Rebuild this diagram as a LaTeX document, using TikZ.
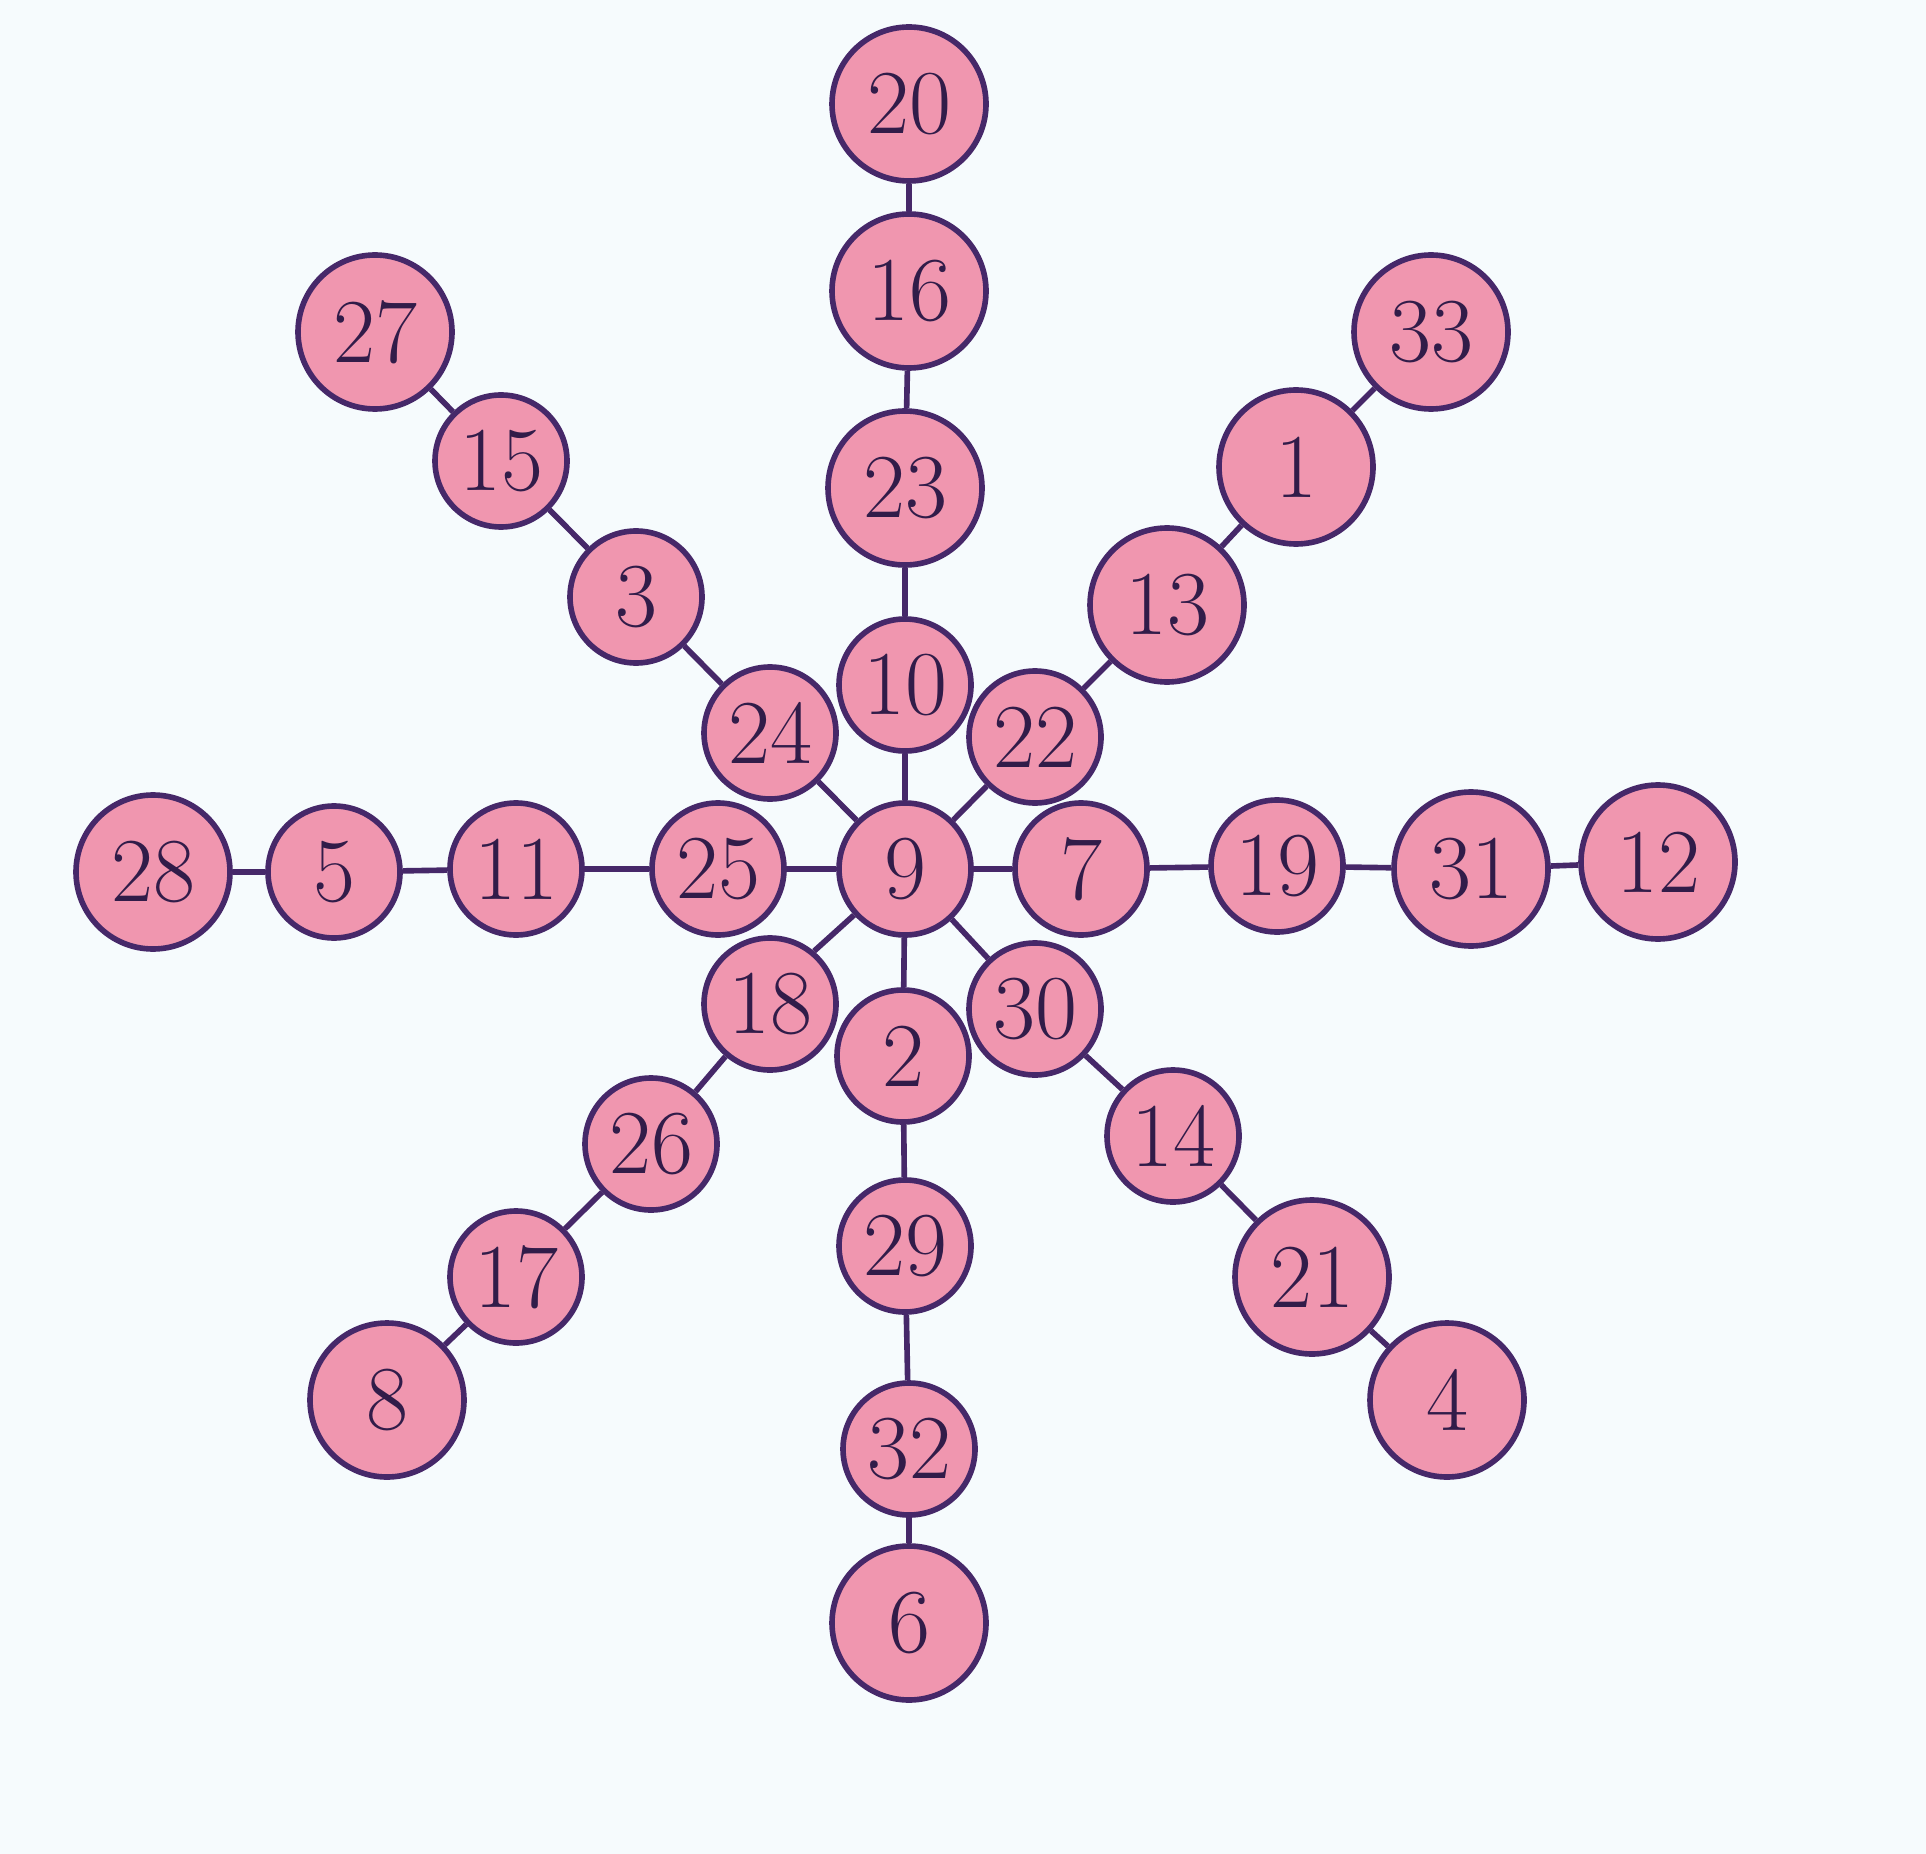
\documentclass[tikz,border=0pt]{standalone}
\usepackage{tikz}
\usetikzlibrary{calc}

\definecolor{ballfill}{RGB}{240,150,175}
\definecolor{balledge}{RGB}{70,40,105}
\definecolor{paper}{RGB}{246,251,253}

\begin{document}
\begin{tikzpicture}[
		ball/.style={circle, draw=balledge, fill=ballfill, line width=1.6pt, minimum size=1.32cm, inner sep=0pt, font=\fontsize{26}{30}\selectfont, text=balledge!70!black},
		bigball/.style={ball, minimum size=1.54cm},
		link/.style={draw=balledge, line width=1.6pt}
	]
		\fill[paper] (0, 0) rectangle (19.26, -18.54);
		\useasboundingbox (0, 0) rectangle (19.26, -18.54);
		% centre
		\node[ball] (n9) at (9.05, -8.69) {9};
		% up
		\node[ball] (n10) at (9.05, -6.85) {10};
		\node[bigball] (n23) at (9.05, -4.88) {23};
		\node[bigball] (n16) at (9.09, -2.91) {16};
		\node[bigball] (n20) at (9.09, -1.04) {20};
		% up left
		\node[ball] (n24) at (7.70, -7.33) {24};
		\node[ball] (n3) at (6.36, -5.97) {3};
		\node[ball] (n15) at (5.01, -4.61) {15};
		\node[bigball] (n27) at (3.75, -3.32) {27};
		% up right
		\node[ball] (n22) at (10.35, -7.37) {22};
		\node[bigball] (n13) at (11.67, -6.05) {13};
		\node[bigball] (n1) at (12.96, -4.67) {1};
		\node[bigball] (n33) at (14.31, -3.32) {33};
		% left
		\node[ball] (n25) at (7.18, -8.69) {25};
		\node[ball] (n11) at (5.16, -8.69) {11};
		\node[ball] (n5) at (3.34, -8.72) {5};
		\node[bigball] (n28) at (1.53, -8.72) {28};
		% right
		\node[ball] (n7) at (10.81, -8.69) {7};
		\node[ball] (n19) at (12.77, -8.66) {19};
		\node[bigball] (n31) at (14.71, -8.69) {31};
		\node[bigball] (n12) at (16.58, -8.62) {12};
		% down left
		\node[ball] (n18) at (7.70, -10.04) {18};
		\node[ball] (n26) at (6.51, -11.44) {26};
		\node[ball] (n17) at (5.16, -12.77) {17};
		\node[bigball] (n8) at (3.87, -14.00) {8};
		% down
		\node[ball] (n2) at (9.03, -10.56) {2};
		\node[ball] (n29) at (9.05, -12.46) {29};
		\node[ball] (n32) at (9.09, -14.49) {32};
		\node[bigball] (n6) at (9.09, -16.23) {6};
		% down right
		\node[ball] (n30) at (10.35, -10.09) {30};
		\node[ball] (n14) at (11.73, -11.36) {14};
		\node[bigball] (n21) at (13.12, -12.77) {21};
		\node[bigball] (n4) at (14.47, -14.00) {4};
		% spokes
		\draw[link] (n9) -- (n10) -- (n23) -- (n16) -- (n20);
		\draw[link] (n9) -- (n24) -- (n3) -- (n15) -- (n27);
		\draw[link] (n9) -- (n22) -- (n13) -- (n1) -- (n33);
		\draw[link] (n9) -- (n25) -- (n11) -- (n5) -- (n28);
		\draw[link] (n9) -- (n7) -- (n19) -- (n31) -- (n12);
		\draw[link] (n9) -- (n18) -- (n26) -- (n17) -- (n8);
		\draw[link] (n9) -- (n2) -- (n29) -- (n32) -- (n6);
		\draw[link] (n9) -- (n30) -- (n14) -- (n21) -- (n4);
	\end{tikzpicture}
\end{document}
